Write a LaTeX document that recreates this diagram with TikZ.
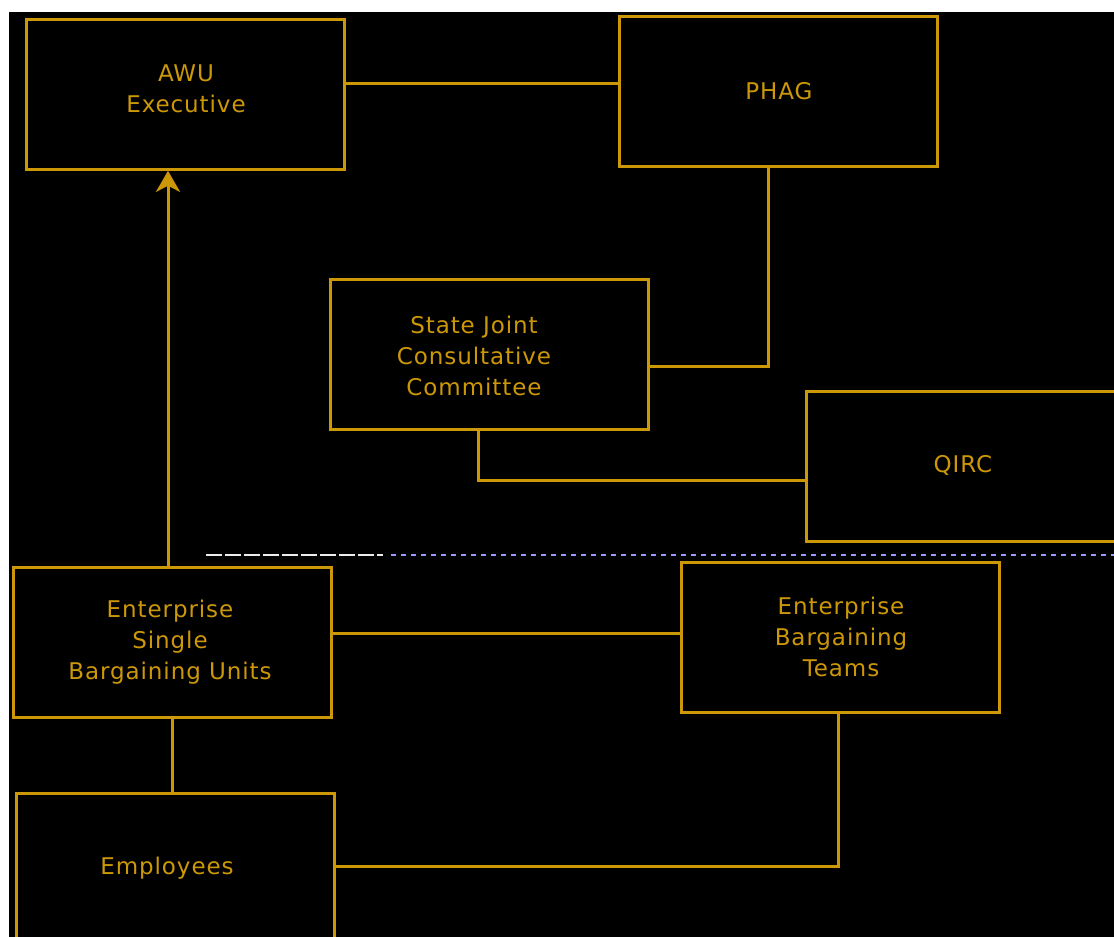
\documentclass[tikz,border=0pt]{standalone}
\usepackage{fontspec}
\setmainfont{DejaVu Sans}
\newfontfamily\pixfont[LetterSpace=4]{DejaVu Sans}
\usetikzlibrary{arrows.meta}
\definecolor{gold}{RGB}{204,152,8}
\begin{document}
\begin{tikzpicture}[x=1pt,y=-1pt,
  box/.style={draw=gold,line width=2.8pt,minimum width=318pt,minimum height=150pt,anchor=north west,inner sep=0pt},
  lbl/.style={text=gold,font=\pixfont\fontsize{23}{31}\selectfont,align=center},
  conn/.style={draw=gold,line width=3pt},
  uptip/.style={-{Stealth[length=21pt 0,width=24pt 0,inset=6pt 0]}}]
\useasboundingbox (0,0) rectangle (1114,937);
\fill[white] (0,0) rectangle (1114,937);
\fill[black] (9,12) rectangle (1114,937);
\begin{scope}
\clip (9,12) rectangle (1114,937);
\node[box] (awu) at (25,18) {};
\node[box] (phag) at (618,15) {};
\node[box] (sjcc) at (329,278) {};
\node[box] (qirc) at (805,390) {};
\node[box] (esbu) at (12,566) {};
\node[box] (ebt) at (680,561) {};
\node[box] (emp) at (15,792) {};
\node[lbl] (tawu) at (186,89) {AWU\\Executive};
\node[lbl] (tphag) at (779,91) {PHAG};
\node[lbl] (tsjcc) at (474,356) {State Joint\\Consultative\\Committee};
\node[lbl] (tqirc) at (963,465) {QIRC};
\node[lbl] (tesbu) at (170,642) {Enterprise\\Single\\Bargaining Units};
\node[lbl] (tebt) at (841,637) {Enterprise\\Bargaining\\Teams};
\node[lbl] (temp) at (167,868) {Employees};
\coordinate (c1) at (768,366);
\coordinate (c2) at (478,480);
\coordinate (c3) at (838,866);
\draw[conn] (awu.east |- 0,83) -- (phag.west |- 0,83);
\draw[conn] (phag.south -| c1) -- (c1) -- (sjcc.east |- c1);
\draw[conn] (sjcc.south -| c2) -- (c2) -- (qirc.west |- c2);
\draw[conn,uptip] (esbu.north -| 168,0) -- (awu.south -| 168,0);
\draw[conn] (esbu.east |- 0,633) -- (ebt.west |- 0,633);
\draw[conn] (esbu.south -| 172,0) -- (emp.north -| 172,0);
\draw[conn] (emp.east |- c3) -- (c3) -- (ebt.south -| c3);
\coordinate (d0) at (206,555);
\coordinate (d1) at (383,555);
\coordinate (d2) at (1114,555);
\draw[white!85!gray,line width=2.2pt,dash pattern=on 16pt off 3pt] (d0) -- (d1);
\draw[white!60!blue,line width=2.2pt,dash pattern=on 5pt off 5pt] (d1) ++(8,0) -- (d2);
\end{scope}
\end{tikzpicture}
\end{document}
